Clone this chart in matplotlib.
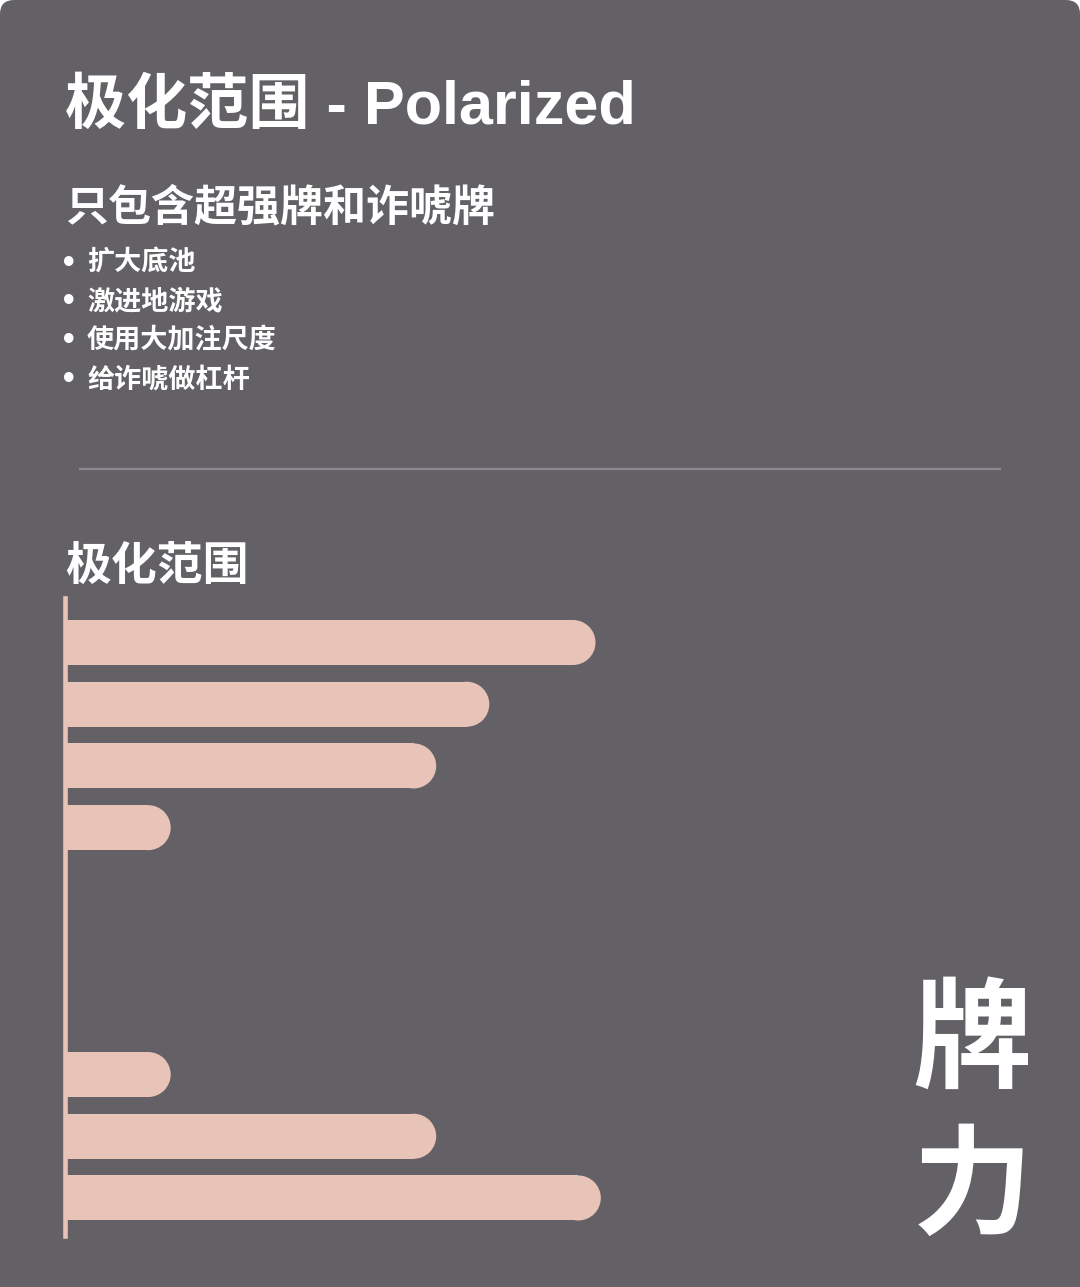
import matplotlib.pyplot as plt
from matplotlib.patches import FancyBboxPatch, Ellipse

W, H = 1080, 1287
BG = '#636166'
BAR = '#e8c3b7'
FONTS = ['Liberation Sans', 'Noto Sans CJK SC', 'DejaVu Sans']

title = '极化范围 - Polarized'
subtitle = '只包含超强牌和诈唬牌'
bullets = ['扩大底池', '激进地游戏', '使用大加注尺度', '给诈唬做杠杆']
section = '极化范围'
axis_label = ['牌', '力']

# hand strength slots, strongest at top; middle slots empty
slots = list(range(10))
values = [100, 80, 70, 20, 0, 0, 0, 20, 70, 101]

plt.rcParams['font.family'] = FONTS


def fx(px):
    return px / W


def fy(py):
    return 1 - py / H


fig = plt.figure(figsize=(W / 100, H / 100), dpi=100)
fig.patch.set_facecolor('white')
card = FancyBboxPatch((0, -0.05), 1, 1.05, boxstyle='round,pad=0,rounding_size=0.013',
                      mutation_aspect=W / H, transform=fig.transFigure,
                      facecolor=BG, edgecolor='none', zorder=-5)
fig.patches.append(card)

fig.text(fx(65), fy(108), title, color='white', fontsize=44, fontweight='bold',
         va='center', ha='left')
fig.text(fx(65), fy(209), subtitle, color='white', fontsize=31, fontweight='bold',
         va='center', ha='left')
for i, b in enumerate(bullets):
    yy = 264 + i * 38.7
    fig.text(fx(63), fy(yy - 1), '•', color='white', fontsize=24, fontweight='bold',
             va='center', ha='left')
    fig.text(fx(87), fy(yy), b, color='white', fontsize=19.5, fontweight='bold',
             va='center', ha='left')

fig.add_artist(plt.Line2D([fx(80), fx(1000)], [fy(469), fy(469)],
                          transform=fig.transFigure, color='#8a8990', lw=1.6))

fig.text(fx(65), fy(568), section, color='white', fontsize=33, fontweight='bold',
         va='center', ha='left')

for i, ch in enumerate(axis_label):
    fig.text(fx(972), fy(1046 + i * 148), ch, color='white', fontsize=86,
             fontweight='bold', va='center', ha='center')

# chart axes
left, right, top, bottom = 64.5, 1015, 598, 1236
ax = fig.add_axes([fx(left), fy(bottom), fx(right - left), (bottom - top) / H])
ax.set_facecolor('none')
ax.set_xlim(0, 179)
ax.set_ylim(9.616, -0.721)
for s in ['top', 'right', 'bottom']:
    ax.spines[s].set_visible(False)
ax.spines['left'].set_color(BAR)
ax.spines['left'].set_linewidth(3.3)
ax.spines['left'].set_zorder(5)
ax.set_xticks([])
ax.set_yticks([])

bar_h = 0.729
px_x = ax.transData.transform((1, 0))[0] - ax.transData.transform((0, 0))[0]
r_x = (45 / 2) / px_x  # half bar height, in x units

# straight body of each bar, then a half-round cap so the tip sits at the value
body = [max(v - r_x, 0) if v > 0 else 0 for v in values]
ax.barh(slots, body, height=bar_h, color=BAR, linewidth=0, zorder=2)
for s, v in zip(slots, values):
    if v <= 0:
        continue
    ax.add_patch(Ellipse((v - r_x, s), 2 * r_x, bar_h, facecolor=BAR,
                         edgecolor='none', zorder=2))

fig.savefig('out.png', dpi=100, facecolor=fig.get_facecolor())
